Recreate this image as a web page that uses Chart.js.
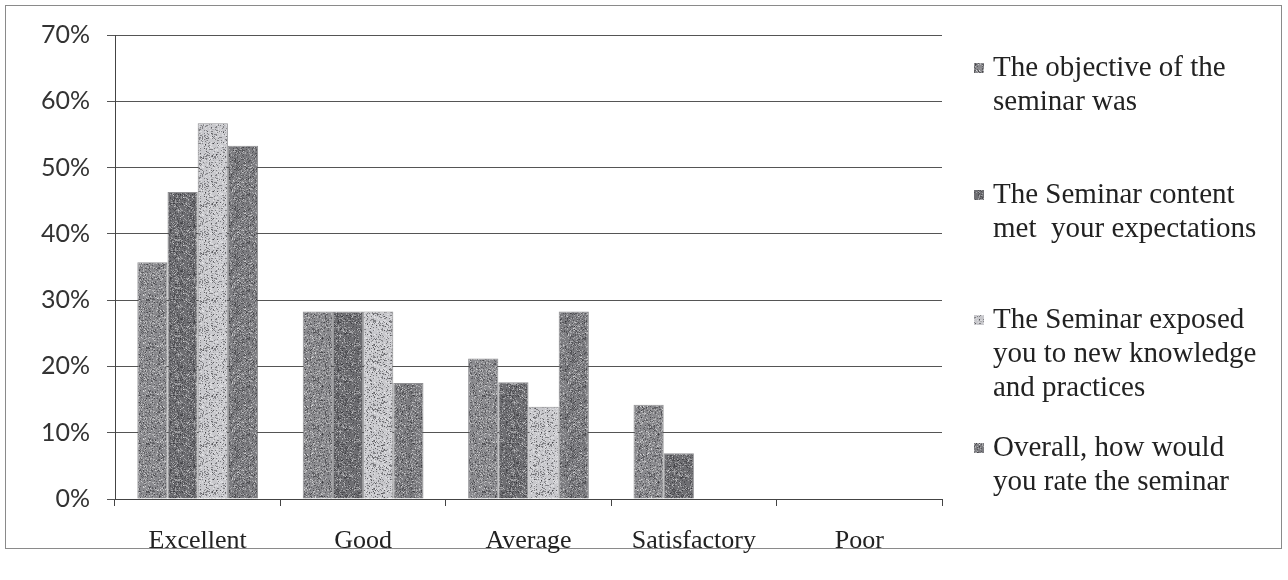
<!DOCTYPE html>
<html>
<head>
<meta charset="utf-8">
<script src="https://cdn.jsdelivr.net/npm/chart.js@4.4.1/dist/chart.umd.min.js"></script>
<style>
body{margin:0;background:#fff;}
#wrap{position:relative;width:1288px;height:580px;}
#frame{position:absolute;left:5px;top:5px;width:1277px;height:544px;border:1px solid #8a8a8a;box-sizing:border-box;}
canvas{position:absolute;left:0;top:0;}
</style>
</head>
<body>
<div id="wrap"><div id="frame"></div><canvas id="chart" width="1288" height="580"></canvas></div>
<script>
// data (percent)
let categories = ["Excellent", "Good", "Average", "Satisfactory", "Poor"];
let objective = [35.7, 28.3, 21.2, 14.2, 0];
let content = [46.3, 28.3, 17.6, 6.9, 0];
let exposed = [56.7, 28.3, 13.9, 0, 0];
let overall = [53.3, 17.5, 28.3, 0, 0];
let legendText = [
    ["The objective of the", "seminar was"],
    ["The Seminar content", "met  your expectations"],
    ["The Seminar exposed", "you to new knowledge", "and practices"],
    ["Overall, how would", "you rate the seminar"]
];

// speckled grey fill, like the scanned bars
function speckle(base, seed) {
    let c = document.createElement("canvas");
    c.width = 48; c.height = 48;
    let g = c.getContext("2d");
    g.fillStyle = base;
    g.fillRect(0, 0, 48, 48);
    let s = seed;
    let next = () => { s = (s * 16807) % 2147483647; return s / 2147483647; };
    for (let i = 0; i < 1100; i++) {
        let x = Math.floor(next() * 48), y = Math.floor(next() * 48);
        g.fillStyle = next() < 0.5 ? "rgba(40,40,45,0.45)" : "rgba(255,255,255,0.35)";
        g.fillRect(x, y, 1, 1);
    }
    return g.createPattern(c, "repeat");
}

let fills = [
    speckle("#8a8a8e", 11),
    speckle("#6e6e72", 29),
    speckle("#c8c8cc", 47),
    speckle("#7c7c80", 83)
];
let series = [objective, content, exposed, overall];

let datasets = [];
for (let i = 0; i < series.length; i++) {
    datasets.push({
        label: legendText[i].join(" "),
        data: series[i],
        backgroundColor: fills[i],
        borderColor: "rgba(70,70,75,0.6)",
        borderWidth: 1,
        categoryPercentage: 0.73,
        barPercentage: 1
    });
}

// legend on the right, drawn by hand because labels wrap
const sideLegend = {
    id: "sideLegend",
    afterDraw(chart) {
        const ctx = chart.ctx;
        const tops = [68, 195, 320, 448];
        ctx.save();
        ctx.font = '29px "Liberation Serif"';
        ctx.textBaseline = "middle";
        chart.data.datasets.forEach((ds, i) => {
            let y = tops[i];
            ctx.fillStyle = ds.backgroundColor;
            ctx.fillRect(974, y - 5, 10, 10);
            ctx.fillStyle = "#222";
            legendText[i].forEach((line, k) => ctx.fillText(line, 993, y + k * 34));
        });
        ctx.restore();
    }
};

let ctx = document.getElementById("chart").getContext("2d");
let chart = new Chart(ctx, {
    type: "bar",
    data: {
        labels: categories,
        datasets: datasets
    },
    options: {
        responsive: false,
        animation: false,
        layout: { padding: { top: 35, right: 346, left: 0, bottom: 0 } },
        plugins: {
            legend: { display: false },
            tooltip: { enabled: false }
        },
        scales: {
            x: {
                grid: { drawOnChartArea: false, tickLength: 7, color: "#444", offset: true },
                border: { color: "#444" },
                ticks: { font: { family: "Liberation Serif", size: 26 }, color: "#222", padding: 20 },
                afterFit: s => { s.height = 81; }
            },
            y: {
                min: 0,
                max: 70,
                ticks: {
                    stepSize: 10,
                    callback: v => v + "%",
                    font: { family: "Lato", size: 25 },
                    color: "#333",
                    padding: 17
                },
                grid: { color: "#555", tickLength: 8 },
                border: { color: "#444" },
                afterFit: s => { s.width = 115; }
            }
        }
    },
    plugins: [sideLegend]
});
</script>
</body>
</html>
